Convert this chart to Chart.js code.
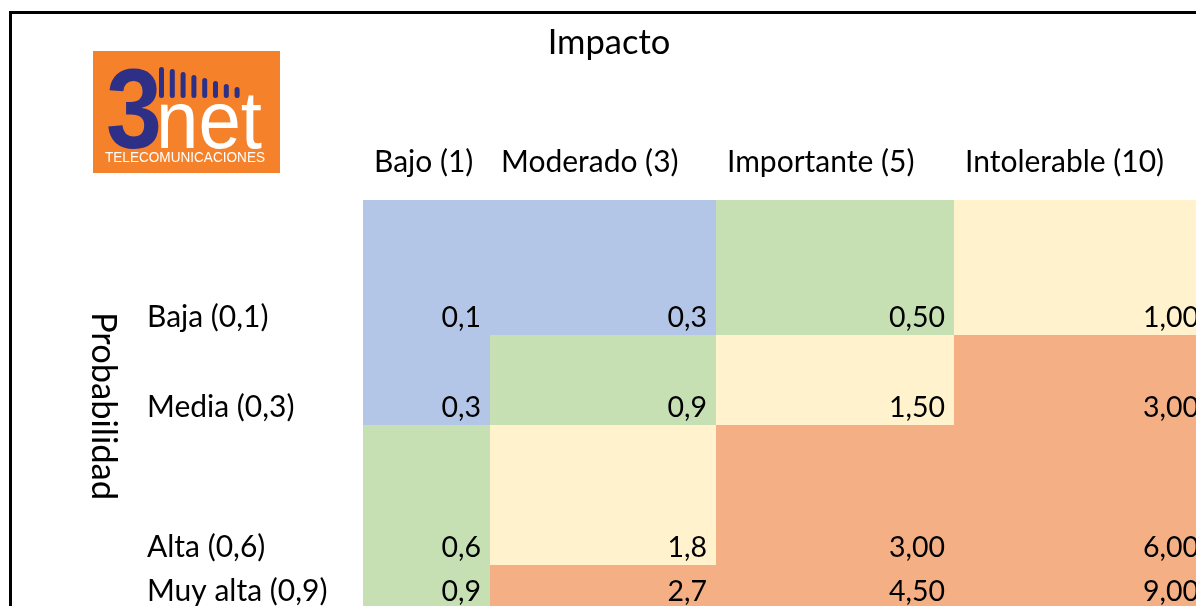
<!DOCTYPE html>
<html>
<head>
<meta charset="utf-8">
<script src="https://cdn.jsdelivr.net/npm/chart.js@4"></script>
<style>
  html, body { margin: 0; padding: 0; background: #fff; }
  #wrap { width: 1196px; height: 606px; }
</style>
</head>
<body>
<div id="wrap"><canvas id="riskMatrix" width="1196" height="606"></canvas></div>
<script>
// Matriz de riesgo: Impacto x Probabilidad
const impactTitle = 'Impacto';
const probTitle = 'Probabilidad';
const impactLabels = ['Bajo (1)', 'Moderado (3)', 'Importante (5)', 'Intolerable (10)'];
const probLabels = ['Baja (0,1)', 'Media (0,3)', 'Alta (0,6)', 'Muy alta (0,9)'];

// one array per probability row
const rowBaja = [0.1, 0.3, 0.5, 1.0];
const rowMedia = [0.3, 0.9, 1.5, 3.0];
const rowAlta = [0.6, 1.8, 3.0, 6.0];
const rowMuyAlta = [0.9, 2.7, 4.5, 9.0];
const riskRows = [rowBaja, rowMedia, rowAlta, rowMuyAlta];

// number of decimals shown in each impact column
const colDecimals = [1, 1, 2, 2];

// risk level limits -> colour
const levelLimits = [0.5, 1, 2];
const levelColors = ['#B4C6E7', '#C6E0B4', '#FFF2CC', '#F4B084'];

// sheet layout (in scale units = px)
const colEdges = [363, 490, 716, 954, 1208];
const rowEdges = [200, 335, 425, 565, 609];

function levelColor(v) {
  let i = 0;
  while (i < levelLimits.length && v >= levelLimits[i]) i++;
  return levelColors[i];
}

function fmt(v, d) {
  return v.toFixed(d).replace('.', ',');
}

const numFont = '28.5px Lato';
const labelFont = '30px Lato';
const titleFont = '34.5px Lato';

const matrixPlugin = {
  id: 'matrix',
  beforeDatasetsDraw(chart) {
    const { ctx } = chart;
    const x = chart.scales.x, y = chart.scales.y;
    ctx.save();

    // cells
    riskRows.forEach((row, r) => {
      row.forEach((v, c) => {
        const x0 = x.getPixelForValue(colEdges[c]);
        const x1 = x.getPixelForValue(colEdges[c + 1]);
        const y0 = y.getPixelForValue(rowEdges[r]);
        const y1 = y.getPixelForValue(rowEdges[r + 1]);
        ctx.fillStyle = levelColor(v);
        ctx.fillRect(x0, y0, x1 - x0, y1 - y0);
      });
    });

    // values right aligned at the bottom of each cell, row labels on the left
    ctx.fillStyle = '#000';
    ctx.textBaseline = 'alphabetic';
    riskRows.forEach((row, r) => {
      const by = y.getPixelForValue(rowEdges[r + 1] - 8.5);
      ctx.font = numFont;
      ctx.textAlign = 'right';
      row.forEach((v, c) => {
        ctx.fillText(fmt(v, colDecimals[c]), x.getPixelForValue(colEdges[c + 1] - 9), by);
      });
      ctx.font = labelFont;
      ctx.textAlign = 'left';
      ctx.fillText(probLabels[r], x.getPixelForValue(147), by);
    });

    // column headers
    ctx.font = labelFont;
    ctx.textAlign = 'left';
    impactLabels.forEach((lab, c) => {
      ctx.fillText(lab, x.getPixelForValue(colEdges[c] + 11), y.getPixelForValue(172));
    });

    // titles
    ctx.font = titleFont;
    ctx.textAlign = 'center';
    ctx.fillText(impactTitle, x.getPixelForValue(609), y.getPixelForValue(54));
    ctx.save();
    ctx.translate(x.getPixelForValue(103), y.getPixelForValue(406));
    ctx.rotate(Math.PI / 2);
    ctx.textBaseline = 'middle';
    ctx.fillText(probTitle, 0, 0);
    ctx.restore();

    // frame
    ctx.strokeStyle = '#000';
    ctx.lineWidth = 3;
    ctx.beginPath();
    ctx.moveTo(x.getPixelForValue(1196), y.getPixelForValue(12.5));
    ctx.lineTo(x.getPixelForValue(10.5), y.getPixelForValue(12.5));
    ctx.lineTo(x.getPixelForValue(10.5), y.getPixelForValue(606));
    ctx.stroke();

    drawLogo(ctx, x, y);
    ctx.restore();
  }
};

function drawLogo(ctx, x, y) {
  const px = v => x.getPixelForValue(v), py = v => y.getPixelForValue(v);
  ctx.fillStyle = '#F5822A';
  ctx.fillRect(px(93), py(51), px(280) - px(93), py(173) - py(51));

  // signal bars
  ctx.fillStyle = '#2E2F86';
  const barTops = [67, 69, 72, 75, 78, 81, 84, 87];
  barTops.forEach((t, i) => {
    const bx = px(159 + i * 10.8);
    ctx.beginPath();
    ctx.roundRect(bx, py(t), 5, py(98) - py(t), 2.5);
    ctx.fill();
  });

  ctx.textAlign = 'left';
  ctx.textBaseline = 'alphabetic';
  ctx.font = 'bold 114px "Liberation Sans"';
  ctx.fillStyle = '#2E2F86';
  ctx.fillText('3', px(106), py(148), 56);

  ctx.fillStyle = '#fff';
  ctx.font = '82px "Liberation Sans"';
  ctx.fillText('net', px(156), py(148), 106);

  ctx.font = '15px "Liberation Sans Narrow", "Liberation Sans"';
  ctx.fillText('TELECOMUNICACIONES', px(105), py(162), 160);
}

new Chart(document.getElementById('riskMatrix'), {
  type: 'scatter',
  data: { datasets: [{ data: [], pointRadius: 0 }] },
  options: {
    responsive: false,
    animation: false,
    layout: { padding: 0 },
    plugins: { legend: { display: false }, tooltip: { enabled: false } },
    scales: {
      x: { type: 'linear', min: 0, max: 1196, display: false },
      y: { type: 'linear', min: 0, max: 606, reverse: true, display: false }
    }
  },
  plugins: [matrixPlugin]
});
</script>
</body>
</html>
